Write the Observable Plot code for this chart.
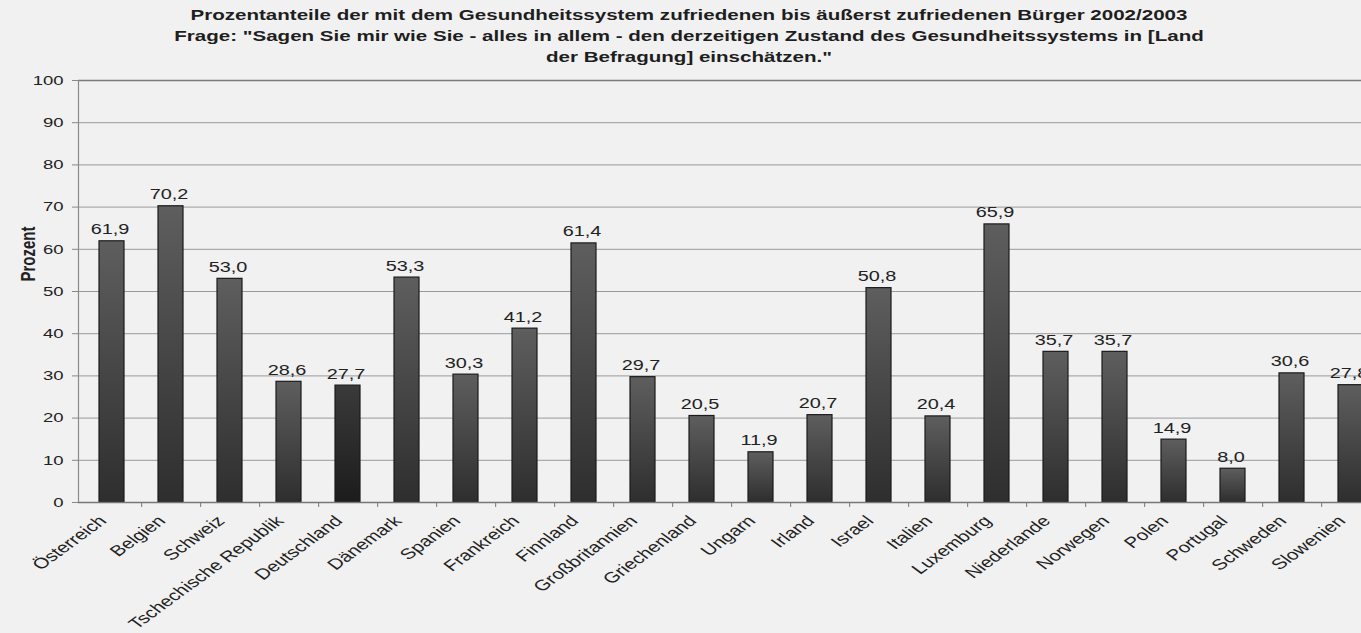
<!DOCTYPE html>
<html>
<head>
<meta charset="utf-8">
<script src="https://cdn.jsdelivr.net/npm/d3@7"></script>
<script src="https://cdn.jsdelivr.net/npm/@observablehq/plot@0.6"></script>
<style>
  body {
    margin: 0;
    width: 1361px;
    height: 633px;
    overflow: hidden;
    background: #f1f1f1;
    font-family: Arial, "Liberation Sans", sans-serif;
  }
  #title {
    width: 1361px;
    height: 68px;
    box-sizing: border-box;
    padding-top: 4px;
    padding-left: 17px;
    text-align: center;
    font-weight: bold;
    font-size: 15px;
    line-height: 21px;
    color: #1e1e1e;
    /* wide lettering of the whole figure */
    transform: scaleX(1.37);
    transform-origin: 689px 0;
  }
  #chart svg { overflow: hidden; }
</style>
</head>
<body>
<div id="title"></div>
<div id="chart"></div>
<script>
// Zufriedenheit mit dem Gesundheitssystem, 2002/2003 (Anteil in Prozent)
const laender = [
  "Österreich", "Belgien", "Schweiz", "Tschechische Republik", "Deutschland",
  "Dänemark", "Spanien", "Frankreich", "Finnland", "Großbritannien",
  "Griechenland", "Ungarn", "Irland", "Israel", "Italien", "Luxemburg",
  "Niederlande", "Norwegen", "Polen", "Portugal", "Schweden", "Slowenien"
];
const prozent = [
  61.9, 70.2, 53.0, 28.6, 27.7,
  53.3, 30.3, 41.2, 61.4, 29.7,
  20.5, 11.9, 20.7, 50.8, 20.4, 65.9,
  35.7, 35.7, 14.9, 8.0, 30.6, 27.8
];
const yTicks = [0, 10, 20, 30, 40, 50, 60, 70, 80, 90, 100];
const titelZeilen = [
  "Prozentanteile der mit dem Gesundheitssystem zufriedenen bis äußerst zufriedenen Bürger 2002/2003",
  "Frage: \"Sagen Sie mir wie Sie - alles in allem - den derzeitigen Zustand des Gesundheitssystems in [Land",
  "der Befragung] einschätzen.\""
];
const achsenTitel = "Prozent";

const rows = laender.map((land, i) => ({land, wert: prozent[i]}));
const fmt = v => v.toFixed(1).replace(".", ",");

document.getElementById("title").innerHTML =
  titelZeilen.map(t => `<div>${t.replace(/&/g, "&amp;").replace(/</g, "&lt;")}</div>`).join("");

// the band axis runs past the right edge of the page, so the last bar is cut off
const x0 = 78, x1 = 1383;
const step = (x1 - x0) / laender.length;
const stretch = 1.37; // horizontal widening of all lettering

const chart = Plot.plot({
  width: 1361,
  height: 565,
  marginTop: 12,
  marginBottom: 131,
  marginLeft: x0,
  marginRight: 0,
  style: {background: "transparent", fontFamily: "Arial, 'Liberation Sans', sans-serif", color: "#222"},
  x: {domain: laender, range: [x0, x1], paddingInner: 0.58, paddingOuter: 0.29, label: null},
  y: {domain: [0, 100], label: null},
  marks: [
    Plot.gridY(yTicks, {stroke: "#9a9a9a", strokeOpacity: 1}),
    Plot.ruleY([100], {stroke: "#7a7a7a", strokeWidth: 1.6}),
    Plot.barY(rows, {
      x: "land",
      y: "wert",
      fill: d => d.land === "Deutschland" ? "url(#barShadeDark)" : "url(#barShade)",
      stroke: "#1b1b1b",
      strokeWidth: 1.2
    }),
    Plot.text(rows, {
      x: "land",
      y: "wert",
      text: d => fmt(d.wert),
      dx: -2,
      dy: -7,
      lineAnchor: "bottom",
      fontSize: 14.5,
      fill: "#222"
    }),
    Plot.frame({anchor: "left", stroke: "#8a8a8a", strokeWidth: 1.2}),
    Plot.ruleY([0], {stroke: "#777", strokeWidth: 1.6}),
    Plot.axisY({ticks: yTicks, tickSize: 6, tickPadding: 9, fontSize: 13.5, stroke: "#888", label: null}),
    Plot.axisX({tickSize: 0, tickRotate: -45, tickPadding: 16, dx: -9, fontSize: 15, label: null}),
    Plot.axisX({tickSize: 5, tickFormat: () => "", dx: step / 2, stroke: "#777", label: null}),
    Plot.text([achsenTitel], {
      frameAnchor: "left",
      rotate: -90,
      dx: -50,
      dy: -10,
      fontSize: 15,
      fontWeight: "bold",
      fill: "#222"
    })
  ]
});

// vertical shading of the bars
const ns = "http://www.w3.org/2000/svg";
const defs = document.createElementNS(ns, "defs");
function shade(id, top, bottom) {
  const g = document.createElementNS(ns, "linearGradient");
  g.setAttribute("id", id);
  g.setAttribute("x1", "0"); g.setAttribute("y1", "0");
  g.setAttribute("x2", "0"); g.setAttribute("y2", "1");
  [[0, top], [1, bottom]].forEach(([o, c]) => {
    const s = document.createElementNS(ns, "stop");
    s.setAttribute("offset", o);
    s.setAttribute("stop-color", c);
    g.appendChild(s);
  });
  defs.appendChild(g);
}
shade("barShade", "#5e5e5e", "#2e2e2e");
shade("barShadeDark", "#3a3a3a", "#1c1c1c");
chart.insertBefore(defs, chart.firstChild);

document.getElementById("chart").appendChild(chart);

// widen every label horizontally around its own anchor point
chart.querySelectorAll("text").forEach(t => {
  const xa = t.getAttribute("x");
  const lx = xa && /^-?[\d.]+$/.test(xa) ? +xa : 0;
  let ax = lx;
  const list = t.transform.baseVal;
  if (list.numberOfItems) {
    const m = list.consolidate().matrix;
    ax = m.a * lx + m.e;
  }
  const wrap = document.createElementNS(ns, "g");
  wrap.setAttribute("transform", `translate(${ax},0) scale(${stretch},1) translate(${-ax},0)`);
  t.parentNode.insertBefore(wrap, t);
  wrap.appendChild(t);
});
</script>
</body>
</html>
